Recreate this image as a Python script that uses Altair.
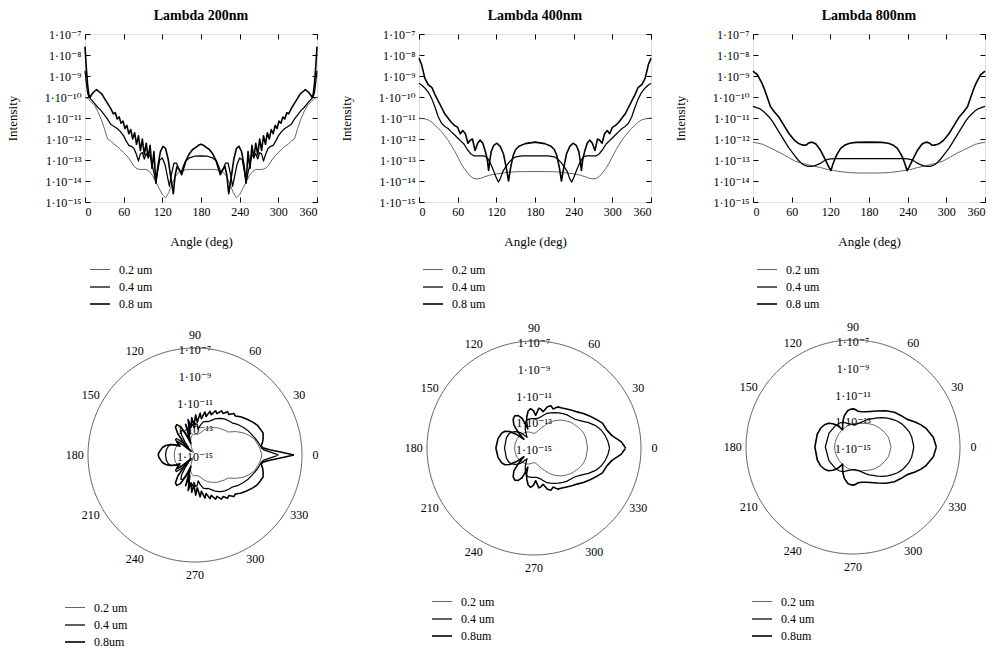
import altair as alt
import pandas as pd

FONT = "Liberation Serif, DejaVu Serif, serif"

LAMBDAS = ["Lambda 200nm", "Lambda 400nm", "Lambda 800nm"]
SERIES = ["0.2 um", "0.4 um", "0.8 um"]
SERIES_POLAR = ["0.2 um", "0.4 um", "0.8um"]
LINE_WIDTHS = [0.9, 1.6, 2.7]
LINE_COLORS = ["#555555", "#000000", "#000000"]

ANGLE_TICKS = [0, 60, 120, 180, 240, 300, 360]
POLAR_ANGLE_LABELS = [0, 30, 60, 90, 120, 150, 180, 210, 240, 270, 300, 330]
INTENSITY_EXPONENTS = [-15, -14, -13, -12, -11, -10, -9, -8, -7]
POLAR_RING_EXPONENTS = [-7, -9, -11, -13, -15]

# Scattered intensity, log10 values, read over 0..180 deg (pattern is symmetric about 180)
A200_02 = [0, 5, 10, 15, 20, 25, 30, 35, 40, 45, 50, 55, 60, 65, 70, 75, 80, 85, 90, 95,
           100, 105, 110, 115, 120, 125, 130, 135, 140, 145, 150, 160, 170, 180]
E200_02 = [-10.0, -10.1, -10.25, -10.4, -10.7, -11.05, -11.5, -12.0, -12.1, -12.25, -12.35,
           -12.5, -12.65, -12.8, -13.0, -13.25, -13.4, -13.45, -13.45, -13.45, -13.55, -13.75,
           -14.05, -14.35, -14.65, -14.8, -14.55, -14.15, -13.8, -13.6, -13.5, -13.45, -13.45,
           -13.45]
A200_04 = [0, 2, 4, 6, 9, 12, 16, 20, 25, 30, 35, 40, 45, 50, 55, 60, 64, 68, 72, 76, 80,
           83, 86, 89, 92, 95, 98, 101, 104, 107, 110, 113, 116, 120, 124, 128, 131, 134,
           138, 142, 146, 149, 152, 156, 162, 170, 180]
E200_04 = [-8.75, -9.3, -9.8, -10.0, -10.1, -10.2, -10.35, -10.5, -10.65, -10.85, -11.05,
           -11.3, -11.4, -11.5, -11.65, -11.85, -12.1, -12.3, -12.35, -12.45, -12.75, -13.05,
           -12.7, -12.65, -12.95, -12.7, -12.85, -12.75, -13.2, -13.6, -14.05, -13.5, -13.0,
           -12.9, -13.2, -13.8, -14.25, -13.7, -13.15, -13.15, -13.45, -13.6, -13.35, -13.05,
           -12.9, -12.82, -12.8]
A200_08 = [0, 2, 4, 6, 8, 11, 14, 18, 22, 26, 30, 35, 40, 44, 47, 50, 53, 56, 59, 62, 65,
           68, 71, 74, 77, 80, 83, 86, 89, 92, 95, 98, 101, 104, 107, 110, 113, 117, 121,
           125, 129, 133, 137, 140, 143, 147, 150, 153, 157, 162, 167, 172, 176, 180]
E200_08 = [-7.6, -8.6, -9.4, -9.9, -10.0, -9.85, -9.75, -9.65, -9.75, -9.85, -10.05, -10.3,
           -10.55, -10.8, -10.75, -11.05, -10.95, -11.25, -11.15, -11.5, -11.35, -11.75,
           -11.55, -12.0, -11.7, -12.25, -11.85, -12.55, -12.0, -12.75, -12.2, -12.9, -12.3,
           -13.4, -12.6, -14.1, -13.3, -12.6, -12.35, -12.45, -12.95, -13.8, -14.6, -13.7,
           -13.3, -13.5, -13.7, -13.4, -13.0, -12.7, -12.5, -12.4, -12.3, -12.25]

A400_02 = [0, 10, 15, 20, 25, 30, 35, 40, 45, 50, 55, 60, 65, 70, 75, 80, 85, 90, 95, 100,
           110, 120, 130, 140, 150, 165, 180]
E400_02 = [-11.0, -11.05, -11.1, -11.2, -11.35, -11.5, -11.65, -11.85, -12.05, -12.3, -12.55,
           -12.85, -13.15, -13.4, -13.6, -13.78, -13.88, -13.9, -13.88, -13.82, -13.72,
           -13.66, -13.62, -13.58, -13.56, -13.55, -13.55]
A400_04 = [0, 5, 10, 15, 20, 25, 30, 35, 40, 45, 50, 55, 60, 65, 70, 75, 80, 85, 90, 95,
           100, 105, 110, 115, 120, 123, 126, 130, 135, 140, 145, 150, 160, 180]
E400_04 = [-9.35, -9.45, -9.6, -9.8, -10.1, -10.5, -10.95, -11.25, -11.4, -11.5, -11.65,
           -11.8, -11.95, -12.1, -12.25, -12.5, -12.7, -12.8, -12.8, -12.8, -12.8, -12.85,
           -13.1, -13.45, -13.85, -14.05, -13.9, -13.55, -13.3, -13.1, -12.95, -12.85, -12.8,
           -12.8]
A400_08 = [0, 4, 9, 14, 20, 25, 30, 35, 40, 45, 50, 55, 60, 64, 68, 72, 76, 80, 83, 87, 91,
           95, 99, 103, 106, 108, 110, 112, 116, 121, 126, 131, 135, 139, 142, 146, 150, 155,
           165, 180]
E400_08 = [-8.15, -8.45, -9.1, -9.4, -9.55, -9.9, -10.2, -10.5, -10.8, -11.0, -11.2, -11.35,
           -11.45, -11.75, -11.6, -11.75, -12.2, -12.05, -12.0, -12.55, -12.2, -12.05, -12.2,
           -12.6, -13.0, -13.5, -13.0, -12.6, -12.3, -12.2, -12.35, -12.7, -13.3, -14.0,
           -13.4, -12.8, -12.5, -12.35, -12.22, -12.15]

A800_02 = [0, 15, 25, 35, 45, 55, 65, 75, 85, 95, 105, 115, 125, 135, 150, 165, 180]
E800_02 = [-12.15, -12.25, -12.4, -12.55, -12.7, -12.88, -13.05, -13.15, -13.22, -13.3,
           -13.36, -13.45, -13.5, -13.55, -13.6, -13.62, -13.62]
A800_04 = [0, 10, 15, 20, 25, 30, 35, 40, 45, 50, 55, 60, 65, 70, 75, 80, 85, 90, 95, 100,
           105, 110, 115, 120, 130, 150, 180]
E800_04 = [-10.45, -10.55, -10.65, -10.8, -10.95, -11.15, -11.4, -11.65, -11.9, -12.15,
           -12.4, -12.6, -12.8, -13.0, -13.15, -13.25, -13.3, -13.3, -13.28, -13.22, -13.15,
           -13.05, -12.98, -12.95, -12.93, -12.93, -12.93]
A800_08 = [0, 7, 14, 18, 22, 27, 33, 40, 48, 56, 64, 70, 76, 82, 86, 90, 94, 98, 105, 110,
           114, 118, 121, 124, 127, 131, 136, 142, 150, 160, 180]
E800_08 = [-8.77, -8.95, -9.35, -9.65, -10.0, -10.45, -10.7, -10.95, -11.35, -11.75, -12.05,
           -12.2, -12.28, -12.3, -12.2, -12.15, -12.18, -12.25, -12.55, -12.85, -13.1, -13.35,
           -13.5, -13.2, -12.95, -12.7, -12.45, -12.3, -12.2, -12.16, -12.15]

READINGS = {
    LAMBDAS[0]: [(A200_02, E200_02), (A200_04, E200_04), (A200_08, E200_08)],
    LAMBDAS[1]: [(A400_02, E400_02), (A400_04, E400_04), (A400_08, E400_08)],
    LAMBDAS[2]: [(A800_02, E800_02), (A800_04, E800_04), (A800_08, E800_08)],
}

rows = []
for lam, series_list in READINGS.items():
    for i, (angles, exps) in enumerate(series_list):
        # second half of the sweep is the mirror image of the first
        full_a = list(angles) + [360 - a for a in reversed(angles[:-1])]
        full_e = list(exps) + list(reversed(exps[:-1]))
        for a, e in zip(full_a, full_e):
            rows.append({"lam": lam, "series": SERIES[i], "series_p": SERIES_POLAR[i],
                         "angle": a, "exp": e, "intensity": 10 ** e})
df = pd.DataFrame(rows)

SUP = str.maketrans("-0123456789", "⁻⁰¹²³⁴⁵⁶⁷⁸⁹")


def sci_label(e):
    return "1·10" + str(e).translate(SUP)


# layout constants (pixels)
PLOT_W = 232
TOP_H = 168
POLAR_H = 260
PX_PER_DECADE = 13.375
POLAR_CENTERS = [(110, 134), (115, 127), (100, 126)]
TOP_LEGEND_POS = [(4, 225), (3, 225), (3, 225)]
POLAR_LEGEND_POS = [(-21, 276), (12, 270), (-2, 270)]

sup_array = "[" + ",".join("'" + str(e).translate(SUP) + "'" for e in INTENSITY_EXPONENTS) + "]"
y_label_expr = f"'1·10' + {sup_array}[round(log(datum.value) / LN10) - ({INTENSITY_EXPONENTS[0]})]"


def legend(x, y):
    return alt.Legend(orient="none", legendX=x, legendY=y, direction="vertical", title=None,
                      symbolType="stroke", symbolSize=400, rowPadding=-2,
                      labelFont=FONT, labelFontSize=12, labelColor="black", labelOffset=8,
                      padding=0)


def top_chart(idx):
    lam = LAMBDAS[idx]
    d = df[df["lam"] == lam]
    lx, ly = TOP_LEGEND_POS[idx]
    leg = legend(lx, ly)
    xs = alt.Scale(domain=[ANGLE_TICKS[0], ANGLE_TICKS[-1]], nice=False, zero=False)
    ys = alt.Scale(type="log", domain=[10.0 ** INTENSITY_EXPONENTS[0], 10.0 ** INTENSITY_EXPONENTS[-1]],
                   nice=False)
    yvals = [10.0 ** e for e in INTENSITY_EXPONENTS]
    common = dict(tickSize=5, offset=-5, domain=False, grid=False, tickColor="black",
                  labelFont=FONT, labelColor="black", titleFont=FONT, titleColor="black",
                  titleFontWeight="normal")
    lines = alt.Chart(d).mark_line(strokeJoin="round").encode(
        x=alt.X("angle:Q", scale=xs,
                axis=alt.Axis(values=ANGLE_TICKS, title="Angle (deg)", labelFontSize=12,
                              labelPadding=4, titleFontSize=13, titlePadding=18, **common)),
        y=alt.Y("intensity:Q", scale=ys,
                axis=alt.Axis(values=yvals, labelExpr=y_label_expr, title="Intensity",
                              labelFontSize=12, labelPadding=4, titleFontSize=13,
                              titlePadding=25, **common)),
        color=alt.Color("series:N", scale=alt.Scale(domain=SERIES, range=LINE_COLORS), legend=leg),
        strokeWidth=alt.StrokeWidth("series:N", scale=alt.Scale(domain=SERIES, range=LINE_WIDTHS),
                                    legend=leg),
        order="angle:Q",
    )
    frame_ticks = alt.Chart(d).mark_point(opacity=0).encode(
        x=alt.X("angle:Q", scale=xs,
                axis=alt.Axis(orient="top", values=ANGLE_TICKS, labels=False, title=None, **common)),
        y=alt.Y("intensity:Q", scale=ys,
                axis=alt.Axis(orient="right", values=yvals, labels=False, title=None, **common)),
    )
    return alt.layer(lines, frame_ticks).resolve_axis(x="independent", y="independent").properties(
        width=PLOT_W, height=TOP_H,
        title=alt.TitleParams(lam, font=FONT, fontSize=14, fontWeight="bold", color="black",
                              frame="group", anchor="middle", offset=5),
    )


def polar_chart(idx):
    lam = LAMBDAS[idx]
    d = df[df["lam"] == lam]
    cx, cy = POLAR_CENTERS[idx]
    k = PX_PER_DECADE
    xs = alt.Scale(domain=[-cx / k, (PLOT_W - cx) / k], nice=False, zero=False)
    ys = alt.Scale(domain=[-(POLAR_H - cy) / k, cy / k], nice=False, zero=False)
    base_e = POLAR_RING_EXPONENTS[-1]
    outer = POLAR_RING_EXPONENTS[0] - base_e
    lx, ly = POLAR_LEGEND_POS[idx]
    leg = legend(lx, ly)

    ring = alt.Chart(alt.sequence(0, 362, 2, as_="a")).transform_calculate(
        px=f"{outer} * cos(datum.a * PI / 180)", py=f"{outer} * sin(datum.a * PI / 180)"
    ).mark_line(color="#555555", strokeWidth=0.9).encode(
        x=alt.X("px:Q", scale=xs, axis=None), y=alt.Y("py:Q", scale=ys, axis=None), order="a:Q")

    angle_text = alt.Chart(pd.DataFrame({"deg": POLAR_ANGLE_LABELS})).transform_calculate(
        px=f"{outer + 1} * cos(datum.deg * PI / 180)", py=f"{outer + 1} * sin(datum.deg * PI / 180)"
    ).mark_text(font=FONT, fontSize=12, color="black").encode(
        x=alt.X("px:Q", scale=xs, axis=None), y=alt.Y("py:Q", scale=ys, axis=None),
        text=alt.Text("deg:Q", format="d"))

    ring_text = alt.Chart(pd.DataFrame({
        "e": POLAR_RING_EXPONENTS, "label": [sci_label(e) for e in POLAR_RING_EXPONENTS]
    })).transform_calculate(px="0", py=f"datum.e - ({base_e})").mark_text(
        font=FONT, fontSize=12, color="black", dy=2).encode(
        x=alt.X("px:Q", scale=xs, axis=None), y=alt.Y("py:Q", scale=ys, axis=None), text="label:N")

    curves = alt.Chart(d).transform_calculate(
        r=f"max(0, datum.exp - ({base_e}))"
    ).transform_calculate(
        px="datum.r * cos(datum.angle * PI / 180)", py="datum.r * sin(datum.angle * PI / 180)"
    ).mark_line(strokeJoin="round").encode(
        x=alt.X("px:Q", scale=xs, axis=None), y=alt.Y("py:Q", scale=ys, axis=None),
        color=alt.Color("series_p:N", scale=alt.Scale(domain=SERIES_POLAR, range=LINE_COLORS),
                        legend=leg),
        strokeWidth=alt.StrokeWidth("series_p:N",
                                    scale=alt.Scale(domain=SERIES_POLAR, range=LINE_WIDTHS),
                                    legend=leg),
        order="angle:Q",
    )
    return alt.layer(ring, angle_text, ring_text, curves).properties(
        width=PLOT_W, height=POLAR_H, view=alt.ViewBackground(stroke="transparent"))


chart = alt.concat(
    top_chart(0), top_chart(1), top_chart(2),
    polar_chart(0), polar_chart(1), polar_chart(2),
    columns=3, spacing={"row": 119, "column": 102}, bounds="flush", align="each",
).resolve_scale(
    x="independent", y="independent", color="independent", strokeWidth="independent"
).resolve_legend(
    color="independent", strokeWidth="independent"
).properties(
    padding={"left": 5, "top": 8, "right": 0, "bottom": 0}
).configure_view(stroke="black", strokeWidth=1).configure(background="white")

chart.save("out.html", embed_options={"renderer": "svg", "actions": False})
